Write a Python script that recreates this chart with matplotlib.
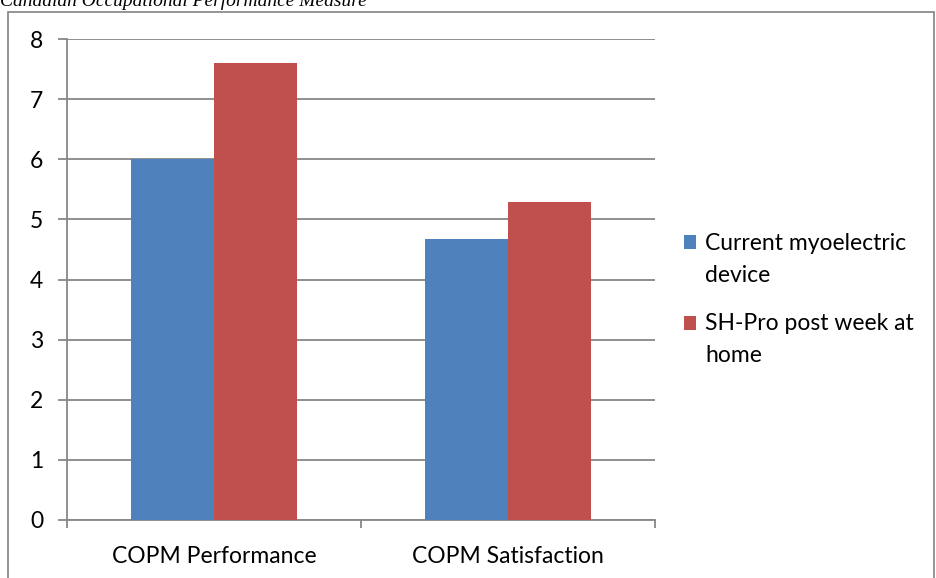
import matplotlib
matplotlib.use("Agg")
import matplotlib.pyplot as plt
from matplotlib.patches import Rectangle
from matplotlib.legend_handler import HandlerPatch
from matplotlib.container import BarContainer
import numpy as np

categories = ["COPM Performance", "COPM Satisfaction"]
series_names = ["Current myoelectric\ndevice", "SH-Pro post week at\nhome"]
current_vals = [6.0, 4.67]
shpro_vals = [7.6, 5.29]
yticks = [0, 1, 2, 3, 4, 5, 6, 7, 8]

blue = "#4F81BD"
red = "#C0504D"
grid_c = "#878787"
FS = 16.5

W, H = 936, 578
fig = plt.figure(figsize=(W/100, H/100), dpi=100)
plt.rcParams['font.family'] = ['Lato', 'DejaVu Sans']

# outer frame
fig.patches.append(Rectangle((8/W, -0.01), (934-8)/W, (H-12)/H + 0.01, transform=fig.transFigure,
                             fill=False, edgecolor="#8c8c8c", lw=1.3))
# cut-off title
fig.text(0/W, 1 - 6/H, "Canadian Occupational Performance Measure", fontsize=14,
         family="Liberation Serif", style="italic", va="baseline", ha="left")

ax = fig.add_axes([67/W, 1 - 520/H, (655-67)/W, (520-39)/H])
x = np.arange(len(categories))
w = 0.283
b1 = ax.bar(x - w/2, current_vals, w, color=blue, label=series_names[0], zorder=3)
b2 = ax.bar(x + w/2, shpro_vals, w, color=red, label=series_names[1], zorder=3)

ax.set_xlim(-0.5, len(categories) - 0.5)
ax.set_ylim(0, 8)
ax.set_yticks(yticks)
ax.set_yticklabels([str(t) for t in yticks], fontsize=FS)
ax.yaxis.grid(True, color=grid_c, lw=1.3, zorder=0)
ax.set_axisbelow(True)
for s in ["top", "right"]:
    ax.spines[s].set_visible(False)
for s in ["left", "bottom"]:
    ax.spines[s].set_color(grid_c)
    ax.spines[s].set_linewidth(1.3)
ax.tick_params(axis="y", length=6.5, width=1.3, color=grid_c, pad=10.5)
ax.set_xticks([-0.5, 0.5, 1.5], minor=False)
ax.set_xticklabels(["", "", ""])
ax.tick_params(axis="x", length=5.5, width=1.3, color=grid_c)
for i, c in enumerate(categories):
    ax.text(i, -0.715, c, ha="center", va="baseline", fontsize=FS, transform=ax.transData)


def top_patch(legend, orig_handle, xdescent, ydescent, width, height, fontsize):
    return Rectangle((-xdescent, -ydescent + 12.4), width, height)


def upd(legend_handle, orig_handle):
    legend_handle.update_from(orig_handle[0])


hmap = {BarContainer: HandlerPatch(patch_func=top_patch, update_func=upd)}
leg = ax.legend(loc="upper left", bbox_to_anchor=(663/W, 1 - 212/H), bbox_transform=fig.transFigure,
                frameon=False, fontsize=FS, handlelength=0.55, handleheight=0.55,
                handletextpad=0.4, labelspacing=1.2, handler_map=hmap)
for t in leg.get_texts():
    t.set_linespacing(1.65)

fig.savefig("out.png", dpi=100)
